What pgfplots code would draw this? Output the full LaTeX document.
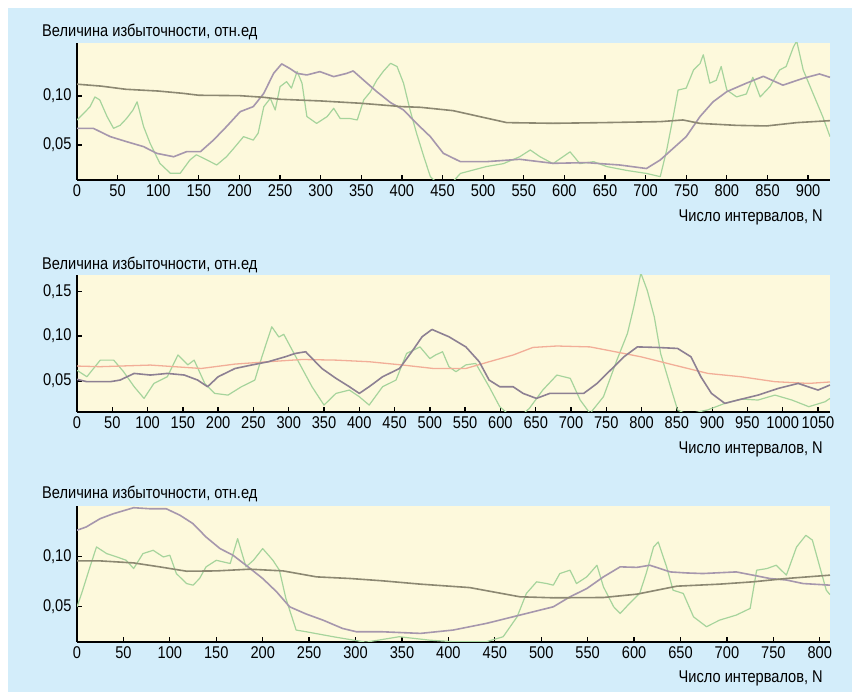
\documentclass[border=0pt]{standalone}
\usepackage{fontspec}
\setmainfont{Liberation Sans}[FakeStretch=0.86]
\usepackage{pgfplots}
\pgfplotsset{compat=1.18}
\definecolor{bgblue}{HTML}{D3EDFA}
\definecolor{plotbg}{HTML}{FDF9DC}
\definecolor{cdark}{HTML}{8C8872}
\definecolor{cpurple}{HTML}{A697AD}
\definecolor{cgreen}{HTML}{A6D49C}
\definecolor{corange}{HTML}{F2AE98}
\newcommand\tf{\fontsize{17}{17}\selectfont}
\pgfplotsset{
  panel/.style={
    scale only axis, width=753pt, anchor=south west,
    axis x line*=bottom, axis y line*=left,
    axis line style={line width=1.6pt, -},
    axis background/.style={fill=plotbg},
    tick style={black, line width=1.3pt},
    major tick length=5pt,
    tick align=inside,
    xtick distance=50,
    xmin=0,
    /pgf/number format/assume math mode=true,
    ticklabel style={font=\tf},
    y tick label style={xshift=-2pt, /pgf/number format/.cd, use comma, fixed, fixed zerofill, precision=2},
    x tick label style={yshift=-1.5pt, /pgf/number format/.cd, 1000 sep={}},
    every axis plot/.append style={line join=round},
  },
  gline/.style={cgreen, line width=1.2pt},
  pline/.style={cpurple, line width=1.6pt},
  dline/.style={cdark, line width=1.6pt},
  oline/.style={corange, line width=1.3pt},
}
\begin{document}
\begin{tikzpicture}
\fill[white] (0pt,0pt) rectangle (852pt,692pt);
\fill[bgblue] (8pt,0pt) rectangle (852pt,684pt);
% ---------------- Panel 1
\begin{axis}[panel, at={(77pt,512pt)}, height=137pt,
  xmax=927, ymin=0.0143, ymax=0.154, ytick={0.05,0.10}]
\addplot[gline] coordinates {(0,0.0755)(8,0.082)(16,0.089)(22,0.099)(28,0.096)(37,0.079)(45,0.067)(53,0.070)(61,0.077)(69,0.0857)(74,0.094)(82,0.0687)(90,0.0517)(102,0.0313)(115,0.0211)(127,0.0211)(139,0.0347)(147,0.040)(160,0.0347)(172,0.0296)(184,0.038)(193,0.0466)(205,0.0585)(217,0.055)(223,0.062)(230,0.0891)(238,0.0976)(244,0.0857)(250,0.1095)(258,0.1146)(264,0.108)(271,0.125)(277,0.113)(283,0.079)(295,0.072)(308,0.079)(316,0.0874)(324,0.077)(336,0.077)(345,0.0755)(353,0.096)(361,0.104)(369,0.116)(377,0.125)(386,0.1333)(394,0.130)(402,0.113)(410,0.0857)(418,0.062)(427,0.038)(435,0.0177)(445,0.010)(460,0.010)(472,0.021)(504,0.028)(525,0.031)(545,0.038)(558,0.0449)(570,0.038)(586,0.031)(607,0.043)(619,0.031)(636,0.033)(652,0.028)(677,0.024)(701,0.021)(718,0.0177)(726,0.045)(734,0.079)(740,0.106)(750,0.108)(759,0.1265)(767,0.133)(771,0.142)(779,0.113)(787,0.116)(793,0.130)(800,0.106)(812,0.099)(824,0.102)(832,0.119)(841,0.099)(853,0.1095)(865,0.1265)(873,0.130)(882,0.150)(886,0.156)(894,0.1265)(906,0.1027)(918,0.079)(927,0.0585)};
\addplot[pline] coordinates {(0,0.067)(20,0.067)(41,0.0585)(61,0.0534)(82,0.0483)(98,0.0415)(119,0.038)(135,0.0432)(152,0.0432)(168,0.055)(184,0.0687)(201,0.084)(217,0.0891)(230,0.1027)(242,0.123)(252,0.1327)(262,0.128)(271,0.123)(283,0.1214)(299,0.1248)(316,0.1197)(332,0.123)(340,0.1255)(353,0.116)(369,0.1044)(386,0.0932)(402,0.0857)(418,0.072)(435,0.0585)(451,0.0415)(472,0.033)(504,0.033)(545,0.0354)(586,0.0313)(627,0.032)(668,0.0296)(701,0.026)(718,0.0347)(734,0.0466)(750,0.0585)(767,0.079)(783,0.094)(800,0.1044)(824,0.113)(845,0.12)(869,0.111)(894,0.118)(914,0.1224)(927,0.119)};
\addplot[dline] coordinates {(0,0.112)(30,0.110)(60,0.1068)(100,0.105)(130,0.1027)(150,0.1007)(200,0.1003)(230,0.0986)(250,0.0966)(300,0.0949)(350,0.0925)(400,0.0891)(423,0.0884)(463,0.085)(496,0.0789)(529,0.0728)(586,0.0721)(648,0.0728)(718,0.0738)(746,0.0755)(767,0.072)(812,0.070)(849,0.0694)(886,0.0728)(927,0.0748)};
\end{axis}
% ---------------- Panel 2
\begin{axis}[panel, at={(77pt,280pt)}, height=137pt,
  xmax=1067, ymin=0.0156, ymax=0.168, ytick={0.05,0.10,0.15}]
\addplot[gline] coordinates {(0,0.062)(14,0.0548)(33,0.0733)(52,0.0733)(66,0.0604)(81,0.0437)(95,0.0307)(109,0.0474)(128,0.0548)(143,0.079)(157,0.068)(166,0.0733)(181,0.0474)(195,0.0363)(214,0.0344)(233,0.0437)(252,0.0511)(262,0.077)(276,0.1104)(286,0.099)(293,0.102)(305,0.0844)(319,0.064)(333,0.0437)(350,0.0233)(367,0.0363)(386,0.040)(400,0.0326)(414,0.0233)(433,0.0437)(452,0.0511)(467,0.0807)(486,0.088)(500,0.075)(508,0.079)(518,0.0826)(527,0.066)(537,0.0604)(551,0.068)(565,0.0696)(584,0.0437)(599,0.0215)(613,0.012)(630,0.012)(641,0.0196)(660,0.040)(680,0.0567)(699,0.053)(713,0.0289)(727,0.014)(746,0.0326)(765,0.0733)(780,0.103)(789,0.1326)(799,0.170)(808,0.151)(818,0.1215)(827,0.0807)(841,0.0437)(851,0.0178)(865,0.013)(894,0.018)(918,0.0252)(941,0.030)(965,0.0289)(989,0.0344)(1013,0.0289)(1037,0.0215)(1060,0.027)(1067,0.0307)};
\addplot[oline] coordinates {(0,0.0667)(33,0.066)(104,0.0678)(176,0.064)(224,0.0689)(271,0.0715)(319,0.074)(367,0.0733)(414,0.0715)(462,0.0678)(505,0.064)(551,0.064)(584,0.0715)(618,0.079)(646,0.0874)(680,0.089)(727,0.088)(751,0.0844)(799,0.077)(846,0.0678)(894,0.0585)(941,0.0548)(989,0.0493)(1037,0.0474)(1067,0.049)};
\addplot[pline, cpurple!85!black] coordinates {(0,0.0519)(14,0.0493)(47,0.0493)(61,0.0511)(81,0.0585)(104,0.0567)(128,0.0585)(152,0.0567)(171,0.0511)(185,0.0437)(200,0.0548)(224,0.064)(247,0.0678)(271,0.0715)(295,0.077)(309,0.0807)(324,0.0826)(347,0.064)(367,0.053)(386,0.0437)(400,0.0363)(414,0.0437)(433,0.0548)(457,0.064)(476,0.0844)(489,0.0993)(503,0.1074)(527,0.0993)(551,0.088)(570,0.0715)(584,0.0511)(599,0.0437)(618,0.0437)(632,0.0363)(651,0.0307)(670,0.0363)(699,0.0363)(718,0.0363)(737,0.0474)(756,0.0622)(775,0.077)(794,0.088)(822,0.0874)(851,0.0863)(870,0.077)(884,0.0548)(899,0.0363)(918,0.0252)(937,0.029)(965,0.0344)(994,0.0419)(1022,0.0474)(1050,0.040)(1067,0.0456)};
\end{axis}
% ---------------- Panel 3
\begin{axis}[panel, at={(77pt,50pt)}, height=136pt,
  xmax=811, ymin=0.0152, ymax=0.1497, ytick={0.05,0.10}]
\addplot[gline] coordinates {(0,0.050)(5,0.0632)(14,0.0895)(21,0.1092)(32,0.1026)(43,0.0993)(53,0.096)(61,0.0878)(71,0.1026)(82,0.1059)(93,0.0993)(100,0.101)(107,0.0829)(118,0.073)(125,0.0714)(132,0.078)(139,0.0895)(150,0.096)(165,0.0928)(173,0.1174)(182,0.0895)(190,0.096)(200,0.1076)(211,0.096)(218,0.0862)(225,0.0582)(236,0.027)(247,0.0253)(276,0.0204)(311,0.015)(347,0.0204)(380,0.017)(405,0.0155)(441,0.0155)(459,0.0204)(474,0.0401)(484,0.0632)(495,0.0747)(506,0.073)(513,0.0714)(520,0.0829)(531,0.0862)(538,0.073)(549,0.0796)(560,0.0911)(567,0.0697)(578,0.050)(585,0.0434)(595,0.0533)(606,0.0632)(613,0.0829)(621,0.1092)(626,0.1141)(635,0.0895)(642,0.0664)(653,0.0632)(664,0.0401)(678,0.0303)(692,0.0368)(710,0.0418)(725,0.0484)(732,0.0862)(743,0.0878)(753,0.0911)(764,0.0813)(775,0.1092)(785,0.1207)(792,0.116)(800,0.0895)(807,0.0664)(811,0.062)};
\addplot[pline] coordinates {(0,0.1257)(10,0.129)(25,0.1372)(39,0.142)(61,0.148)(78,0.147)(96,0.147)(111,0.1405)(125,0.1322)(139,0.119)(154,0.1076)(168,0.101)(182,0.0911)(200,0.078)(215,0.0648)(229,0.050)(247,0.0428)(265,0.0368)(286,0.0286)(301,0.0253)(329,0.0253)(370,0.0237)(405,0.027)(441,0.0336)(477,0.0418)(513,0.050)(531,0.0599)(549,0.068)(567,0.0796)(585,0.0895)(603,0.089)(617,0.0911)(639,0.0845)(656,0.0835)(674,0.0829)(710,0.0845)(728,0.0813)(746,0.078)(764,0.0765)(782,0.073)(811,0.0714)};
\addplot[dline] coordinates {(0,0.0954)(25,0.0954)(61,0.0934)(89,0.0895)(118,0.0852)(150,0.0855)(186,0.0872)(222,0.0855)(258,0.0796)(294,0.078)(329,0.0757)(370,0.0724)(423,0.069)(477,0.0599)(513,0.0589)(567,0.0592)(603,0.0625)(646,0.0704)(692,0.0724)(728,0.0747)(764,0.078)(811,0.0813)};
\end{axis}
% ---------------- texts
\foreach \yb in {655pt,422.7pt,193.7pt}{
  \node[anchor=base west, inner sep=0pt, font=\tf] at (42pt,\yb) {Величина избыточности, отн.ед};
}
\foreach \yb in {470.3pt,238.7pt,9.3pt}{
  \node[anchor=base east, inner sep=0pt, font=\tf] at (823pt,\yb) {Число интервалов, N};
}
\end{tikzpicture}
\end{document}
